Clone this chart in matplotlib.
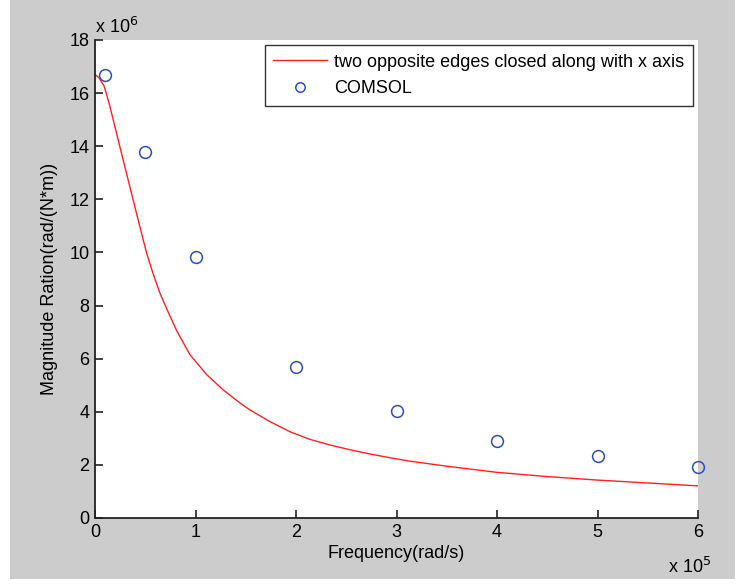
import numpy as np
import matplotlib
matplotlib.use("Agg")
import matplotlib.pyplot as plt
from matplotlib.ticker import FuncFormatter
from matplotlib.patches import Rectangle

plt.rcParams['font.family'] = ['Liberation Sans', 'DejaVu Sans']

# analytic curve (rad/s, rad/(N*m))
curve_freq = [0, 0.04e5, 0.09e5, 0.139e5, 0.189e5, 0.256e5, 0.322e5, 0.388e5, 0.448e5,
              0.514e5, 0.58e5, 0.647e5, 0.729e5, 0.813e5, 0.945e5, 1.111e5, 1.277e5,
              1.443e5, 1.542e5, 1.741e5, 1.94e5, 2.139e5, 2.338e5, 2.537e5, 2.736e5,
              2.935e5, 3.134e5, 3.5e5, 3.997e5, 4.5e5, 4.99e5, 5.5e5, 6.0e5]
curve_mag = [16.70e6, 16.58e6, 16.27e6, 15.64e6, 14.88e6, 13.85e6, 12.85e6, 11.85e6, 10.95e6,
             9.97e6, 9.18e6, 8.46e6, 7.75e6, 7.05e6, 6.15e6, 5.40e6, 4.82e6,
             4.33e6, 4.07e6, 3.63e6, 3.25e6, 2.96e6, 2.75e6, 2.57e6, 2.41e6,
             2.27e6, 2.14e6, 1.95e6, 1.72e6, 1.56e6, 1.43e6, 1.32e6, 1.21e6]

# COMSOL points
comsol_freq = [0.1e5, 0.5e5, 1e5, 2e5, 3e5, 4e5, 5e5, 6e5]
comsol_mag = [16.68e6, 13.78e6, 9.83e6, 5.69e6, 4.03e6, 2.90e6, 2.33e6, 1.92e6]

xticks = [0, 1e5, 2e5, 3e5, 4e5, 5e5, 6e5]
yticks = [0, 2e6, 4e6, 6e6, 8e6, 10e6, 12e6, 14e6, 16e6, 18e6]

fig = plt.figure(figsize=(7.43, 5.84), dpi=100)
fig.patch.set_facecolor('white')
fig.patches.append(Rectangle((10/743, 5/584), 725/743, 579/584, transform=fig.transFigure,
                             facecolor='#cccccc', edgecolor='none', zorder=-10))

ax = fig.add_axes([95/743, 66/584, 603/743, 478/584])
ax.plot(curve_freq, curve_mag, color='#ff2020', lw=1.0,
        label='two opposite edges closed along with x axis')
ax.plot(comsol_freq, comsol_mag, 'o', mfc='none', mec='#2f4fb8', mew=1.1, ms=8.5,
        ls='none', label='COMSOL', clip_on=False)

ax.set_xlim(0, 6e5)
ax.set_ylim(0, 18e6)
ax.set_xticks(xticks)
ax.set_yticks(yticks)
ax.xaxis.set_major_formatter(FuncFormatter(lambda v, p: '%g' % (v / 1e5)))
ax.yaxis.set_major_formatter(FuncFormatter(lambda v, p: '%g' % (v / 1e6)))
for s in ['top', 'right']:
    ax.spines[s].set_visible(False)
for s in ['left', 'bottom']:
    ax.spines[s].set_linewidth(1.3)
    ax.spines[s].set_color('#222222')
ax.tick_params(direction='in', length=6, width=1.2, labelsize=13, color='#222222', pad=4)

ax.set_xlabel('Frequency(rad/s)', fontsize=13, labelpad=3)
ax.set_ylabel('Magnitude Ration(rad/(N*m))', fontsize=13, labelpad=8)

fig.text(95/743, 1 - 27/584, r'x 10$^{6}$', fontsize=13, va='center', ha='left')
fig.text(668/743, 1 - 567/584, r'x 10$^{5}$', fontsize=13, va='center', ha='left')

leg = ax.legend(loc='upper right', bbox_to_anchor=(1.0, 1.0), fontsize=13, frameon=True,
                fancybox=False, edgecolor='black', handlelength=3.0, borderpad=0.45,
                labelspacing=0.55, handletextpad=0.4, borderaxespad=0.3, markerscale=0.8)
leg.get_frame().set_linewidth(1.0)

fig.savefig('out.png', dpi=100)
